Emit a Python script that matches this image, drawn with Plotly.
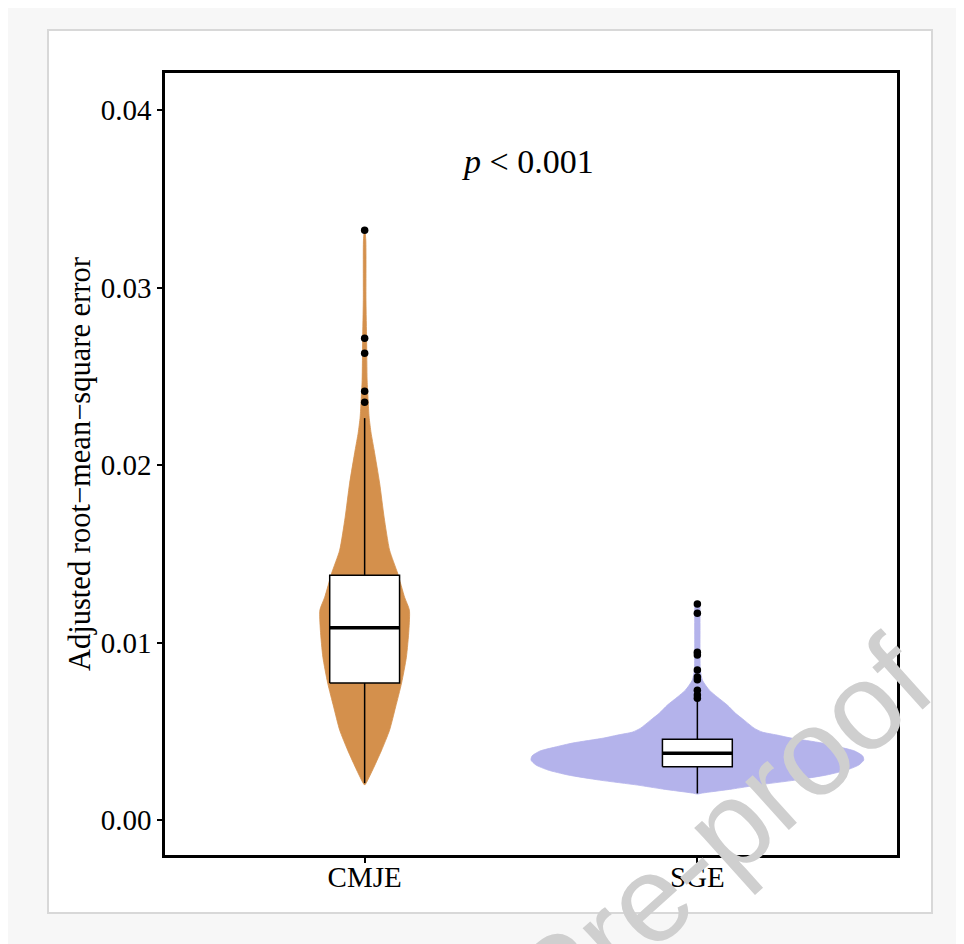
import plotly.graph_objects as go

# ---------------- data ----------------
categories = ["CMJE", "SGE"]
cat_pos = [1, 2]

# violin outlines: y values and relative density (half-width, SGE peak = 1)
cmje_y = [0.03335, 0.03268, 0.02930, 0.02704, 0.02479, 0.02366, 0.02270, 0.02180,
          0.02085, 0.01899, 0.01707, 0.01521, 0.01392, 0.01256, 0.01183, 0.01070,
          0.00918, 0.00772, 0.00637, 0.00507, 0.00394, 0.00282, 0.00208, 0.00197]
cmje_dens = [0.0, 0.007, 0.008, 0.012, 0.015, 0.021, 0.027, 0.039,
             0.057, 0.090, 0.117, 0.150, 0.198, 0.240, 0.269, 0.266,
             0.251, 0.222, 0.186, 0.150, 0.102, 0.048, 0.009, 0.0]

sge_y = [0.01223, 0.01206, 0.01127, 0.00958, 0.00845, 0.00789, 0.00732, 0.00693,
         0.00648, 0.00603, 0.00563, 0.00518, 0.00496, 0.00479, 0.00462, 0.00434,
         0.00411, 0.00389, 0.00361, 0.00338, 0.00310, 0.00282, 0.00254, 0.00225,
         0.00197, 0.00175, 0.00152, 0.00146]
sge_dens = [0.0, 0.014, 0.016, 0.016, 0.018, 0.030, 0.072, 0.120,
            0.180, 0.228, 0.281, 0.341, 0.389, 0.479, 0.563, 0.749,
            0.856, 0.946, 0.994, 1.0, 0.970, 0.898, 0.778, 0.587,
            0.359, 0.210, 0.030, 0.0]

# box statistics
q1 = [0.00772, 0.00300]
median = [0.01083, 0.00376]
q3 = [0.01380, 0.00455]
lowerfence = [0.00208, 0.00150]
upperfence = [0.02265, 0.00676]

# outliers
cmje_out = [0.03324, 0.02715, 0.02630, 0.02417, 0.02355]
sge_out = [0.01217, 0.01166, 0.00946, 0.00930, 0.00845, 0.00806, 0.00790,
           0.00732, 0.00704, 0.00687]

y_ticks = [0.00, 0.01, 0.02, 0.03, 0.04]
y_ticktext = ["0.00", "0.01", "0.02", "0.03", "0.04"]
y_title = "Adjusted root\u2212mean\u2212square error"
p_text = "<i>p</i> < 0.001"
watermark = "Journal Pre-proof"

# ---------------- style ----------------
colors = ["#D4904C", "#B4B3EB"]
vscale = 0.5      # x-units per unit density
box_w = 0.21
FONT = "Liberation Serif"

# figure pixel geometry (page is offset by the 8px body margin)
W, H = 956, 936
L, R, T, B = 157, 889, 65, 847

def px_x(px):
    return (px - L) / (R - L)

def px_y(py):
    return (B - py) / (B - T)

fig = go.Figure()

# violins
for c, yy, dd, col in [(cat_pos[0], cmje_y, cmje_dens, colors[0]),
                       (cat_pos[1], sge_y, sge_dens, colors[1])]:
    xs = [c + vscale * d for d in dd] + [c - vscale * d for d in dd[::-1]]
    ys = list(yy) + list(yy[::-1])
    fig.add_trace(go.Scatter(x=xs, y=ys, mode="lines", fill="toself",
                             fillcolor=col, line=dict(color=col, width=0.8,
                                                      shape="spline", smoothing=0.6),
                             hoverinfo="skip", showlegend=False))

# boxes, whiskers, medians
for i, c in enumerate(cat_pos):
    x0, x1 = c - box_w / 2, c + box_w / 2
    fig.add_trace(go.Scatter(x=[c, c, None, c, c],
                             y=[lowerfence[i], q1[i], None, q3[i], upperfence[i]],
                             mode="lines", line=dict(color="black", width=1.5),
                             hoverinfo="skip", showlegend=False))
    fig.add_trace(go.Scatter(x=[x0, x1, x1, x0, x0],
                             y=[q1[i], q1[i], q3[i], q3[i], q1[i]],
                             mode="lines", fill="toself", fillcolor="white",
                             line=dict(color="black", width=1.5),
                             hoverinfo="skip", showlegend=False))
    fig.add_trace(go.Scatter(x=[x0, x1], y=[median[i], median[i]],
                             mode="lines", line=dict(color="black", width=3.5),
                             hoverinfo="skip", showlegend=False))

fig.add_trace(go.Scatter(x=[cat_pos[0]] * len(cmje_out) + [cat_pos[1]] * len(sge_out),
                         y=cmje_out + sge_out, mode="markers",
                         marker=dict(color="black", size=7.5),
                         hoverinfo="skip", showlegend=False))

fig.add_annotation(x=1.49, y=0.0371, xref="x", yref="y", text=p_text,
                   showarrow=False, font=dict(family=FONT, size=34, color="black"))

fig.add_annotation(x=px_x(72), y=0.5, xref="paper", yref="paper", text=y_title,
                   textangle=-90, showarrow=False, xanchor="center", yanchor="middle",
                   font=dict(family=FONT, size=30.5, color="black"))

# watermark
fig.add_annotation(x=px_x(550), y=px_y(972), xref="paper", yref="paper",
                   text=watermark, textangle=-42, showarrow=False,
                   xanchor="center", yanchor="middle",
                   font=dict(family="Liberation Sans", size=123, color="#cfcfcf"))

fig.update_layout(
    width=W, height=H,
    margin=dict(l=L, r=W - R, t=T, b=H - B, pad=0),
    paper_bgcolor="#f7f7f7", plot_bgcolor="white",
    font=dict(family=FONT, size=29, color="black"),
    showlegend=False,
    shapes=[
        dict(type="rect", xref="paper", yref="paper", x0=px_x(40), x1=px_x(924),
             y0=px_y(905), y1=px_y(22), fillcolor="white",
             line=dict(color="#d8d8d8", width=2), layer="below"),
    ],
)
fig.update_xaxes(range=[0.4, 2.6], tickvals=cat_pos, ticktext=categories,
                 showgrid=False, zeroline=False, showline=True, mirror=True,
                 linecolor="black", linewidth=2.5, ticks="outside", ticklen=5,
                 tickwidth=1.5, tickcolor="black", tickfont=dict(size=29),
                 ticklabelstandoff=-11)
fig.update_yaxes(range=[-0.00197, 0.0421], tickvals=y_ticks, ticktext=y_ticktext,
                 showgrid=False, zeroline=False, showline=True, mirror=True,
                 linecolor="black", linewidth=2.5, ticks="outside", ticklen=5,
                 tickwidth=1.5, tickcolor="black", tickfont=dict(size=29))

fig.write_html("out.html")
